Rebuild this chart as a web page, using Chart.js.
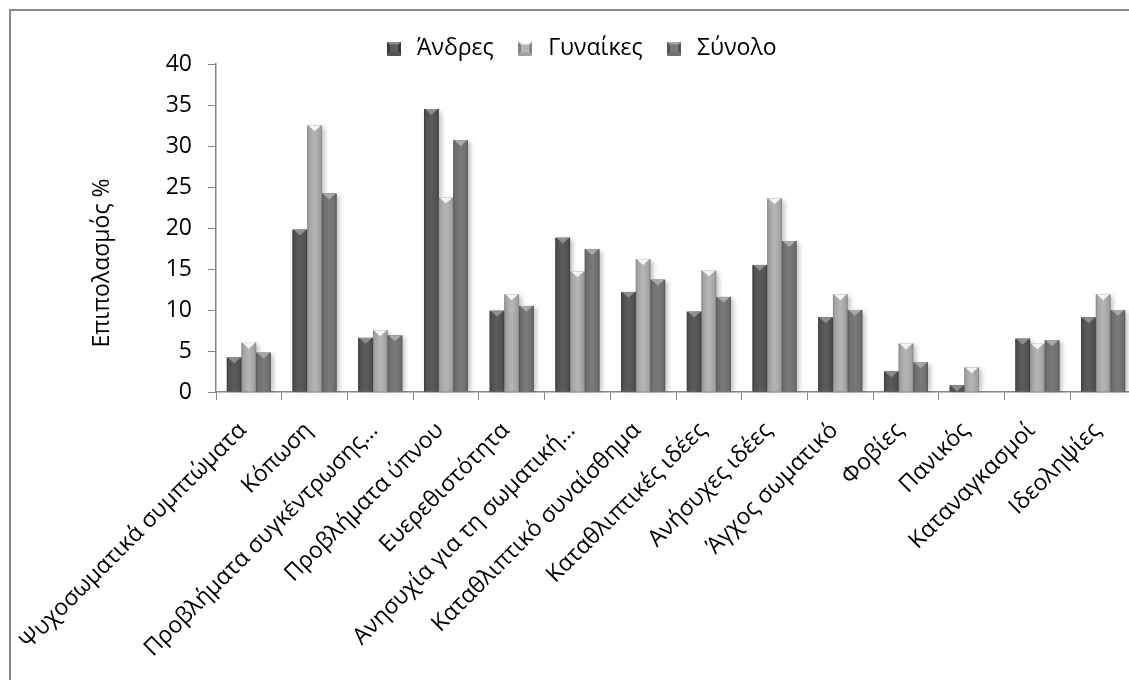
<!DOCTYPE html>
<html>
<head>
<meta charset="utf-8">
<script src="https://cdn.jsdelivr.net/npm/chart.js@4"></script>
<style>
  html, body { margin: 0; padding: 0; background: #fff; overflow: hidden; width: 1129px; height: 680px; }
  #frame { position: absolute; left: 9px; top: 9px; width: 1140px; height: 680px;
           border-left: 2px solid #8a8a8a; border-top: 2px solid #8a8a8a; }
</style>
</head>
<body>
<div id="frame"><canvas id="chart" width="1140" height="680"></canvas></div>
<script>
// values (percent)
const categories = [
  "Ψυχοσωματικά συμπτώματα", "Κόπωση", "Προβλήματα συγκέντρωσης…", "Προβλήματα ύπνου",
  "Ευερεθιστότητα", "Ανησυχία για τη σωματική…", "Καταθλιπτικό συναίσθημα", "Καταθλιπτικές ιδέες",
  "Ανήσυχες ιδέες", "Άγχος σωματικό", "Φοβίες", "Πανικός", "Καταναγκασμοί", "Ιδεοληψίες"
];
const seriesNames = ["Άνδρες", "Γυναίκες", "Σύνολο"];
const andres   = [4.2, 19.8, 6.6, 34.5, 9.9, 18.8, 12.2, 9.8, 15.5, 9.1, 2.5, 0.8, 6.5, 9.1];
const gynaikes = [6.0, 32.5, 7.5, 23.7, 11.9, 14.7, 16.2, 14.8, 23.6, 11.9, 5.9, 3.0, 5.9, 11.9];
const synolo   = [4.8, 24.2, 6.9, 30.7, 10.5, 17.4, 13.7, 11.6, 18.4, 10.0, 3.6, null, 6.3, 10.0];
const yTicks = [0, 5, 10, 15, 20, 25, 30, 35, 40];
const yTitle = "Επιπολασμός %";

// grey shades for the bevelled bars
const shades = [
  { body: "#505050", edge: "#383838", hi: "#5c5c5c", tri: "#8e8e8e" },
  { body: "#a2a2a2", edge: "#848484", hi: "#b6b6b6", tri: "#f4f4f4" },
  { body: "#6e6e6e", edge: "#545454", hi: "#7a7a7a", tri: "#a8a8a8" }
];

Chart.defaults.font.family = "'Open Sans', sans-serif";
Chart.defaults.font.size = 23;
Chart.defaults.color = "#000";

function makeIcon(s) {
  const c = document.createElement("canvas");
  c.width = 14; c.height = 14;
  const g = c.getContext("2d");
  const tri = (pts, col) => {
    g.beginPath();
    g.moveTo(pts[0][0], pts[0][1]);
    pts.slice(1).forEach(p => g.lineTo(p[0], p[1]));
    g.closePath();
    g.fillStyle = col;
    g.fill();
  };
  tri([[0, 0], [14, 0], [7, 7]], s.tri);
  tri([[0, 0], [0, 14], [7, 7]], s.edge);
  tri([[14, 0], [14, 14], [7, 7]], s.edge);
  tri([[0, 14], [14, 14], [7, 7]], s.body);
  g.fillStyle = s.hi;
  g.fillRect(3, 3, 8, 8);
  return c;
}
const icons = shades.map(makeIcon);

// draws a soft shadow behind each bar, then the bevel over it
const bevel = {
  id: "bevel",
  beforeDatasetsDraw(chart) {
    const ctx = chart.ctx;
    ctx.save();
    ctx.filter = "blur(2px)";
    ctx.fillStyle = "rgba(0,0,0,0.22)";
    chart.data.datasets.forEach((ds, i) => {
      chart.getDatasetMeta(i).data.forEach(el => {
        if (isNaN(el.y) || el.base - el.y < 0.5) return;
        ctx.fillRect(el.x - el.width / 2 + 3, el.y + 2, el.width, el.base - el.y - 2);
      });
    });
    ctx.restore();
  },
  afterDatasetsDraw(chart) {
    const ctx = chart.ctx;
    ctx.save();
    chart.data.datasets.forEach((ds, i) => {
      const s = shades[i];
      chart.getDatasetMeta(i).data.forEach(el => {
        if (isNaN(el.y) || el.base - el.y < 0.5) return;
        const l = el.x - el.width / 2, r = l + el.width, h = el.base - el.y;
        const gr = ctx.createLinearGradient(l, 0, r, 0);
        gr.addColorStop(0, s.edge);
        gr.addColorStop(0.12, s.body);
        gr.addColorStop(0.5, s.hi);
        gr.addColorStop(0.88, s.body);
        gr.addColorStop(1, s.edge);
        ctx.fillStyle = gr;
        ctx.fillRect(l, el.y, el.width, h);
        const t = Math.min(el.width * 0.4, h);
        ctx.beginPath();
        ctx.moveTo(l + 1, el.y);
        ctx.lineTo(r - 1, el.y);
        ctx.lineTo(el.x, el.y + t);
        ctx.closePath();
        ctx.fillStyle = s.tri;
        ctx.fill();
      });
    });
    ctx.restore();
  }
};

// fixed legend height, legend nudged right, as in the reference
const legendTweak = {
  id: "legendTweak",
  beforeInit(chart) {
    const legend = chart.legend;
    const fit = legend.fit;
    legend.fit = function () {
      fit.call(this);
      this.height = 47;
    };
    const draw = legend.draw;
    legend.draw = function () {
      this.ctx.save();
      this.ctx.translate(6, 0);
      draw.call(this);
      this.ctx.restore();
    };
  }
};

// y title sits lower than the middle of the axis in the reference
const yTitlePlugin = {
  id: "yTitle",
  afterDraw(chart) {
    const { ctx, chartArea } = chart;
    ctx.save();
    ctx.translate(chartArea.left - 114, (chartArea.top + chartArea.bottom) / 2 + 35);
    ctx.rotate(-Math.PI / 2);
    ctx.font = "23px 'Open Sans', sans-serif";
    ctx.fillStyle = "#000";
    ctx.textAlign = "center";
    ctx.textBaseline = "middle";
    ctx.fillText(yTitle, 0, 0);
    ctx.restore();
  }
};

new Chart(document.getElementById("chart"), {
  type: "bar",
  data: {
    labels: categories,
    datasets: [
      { label: seriesNames[0], data: andres, backgroundColor: shades[0].body },
      { label: seriesNames[1], data: gynaikes, backgroundColor: shades[1].body },
      { label: seriesNames[2], data: synolo, backgroundColor: shades[2].body }
    ]
  },
  options: {
    responsive: false,
    animation: false,
    layout: { padding: { left: 0, right: 15, top: 6, bottom: 0 } },
    datasets: { bar: { categoryPercentage: 0.67, barPercentage: 1.0 } },
    plugins: {
      tooltip: { enabled: false },
      legend: {
        position: "top",
        labels: {
          usePointStyle: true,
          boxHeight: 14,
          padding: 20,
          generateLabels: chart => chart.data.datasets.map((ds, i) => ({
            text: ds.label,
            pointStyle: icons[i],
            fillStyle: shades[i].body,
            strokeStyle: shades[i].body,
            lineWidth: 0,
            hidden: false,
            datasetIndex: i,
            fontColor: "#000"
          }))
        }
      }
    },
    scales: {
      x: {
        offset: true,
        grid: { offset: true, drawOnChartArea: false, tickLength: 8, color: "#868686" },
        border: { color: "#868686", width: 1.5 },
        ticks: { autoSkip: false, minRotation: 45, maxRotation: 45, padding: 17, labelOffset: -6 },
        afterFit(s) {
          s.height = 299;
          s.paddingLeft = 0;
          s.paddingRight = 0;
        }
      },
      y: {
        min: 0,
        max: 40,
        afterBuildTicks(s) { s.ticks = yTicks.map(v => ({ value: v })); },
        grid: { drawOnChartArea: false, tickLength: 8, color: "#868686" },
        border: { color: "#868686", width: 1.5 },
        ticks: { padding: 16 },
        afterFit(s) { s.width = 205; }
      }
    }
  },
  plugins: [bevel, legendTweak, yTitlePlugin]
});
</script>
</body>
</html>
